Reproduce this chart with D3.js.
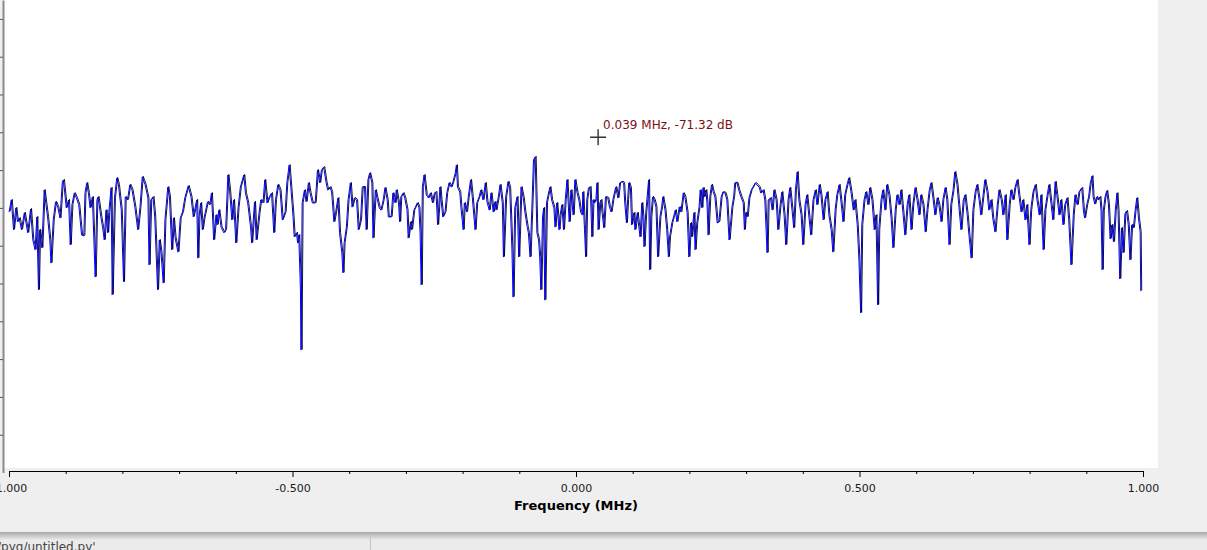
<!DOCTYPE html>
<html lang="en">
<head>
<meta charset="utf-8">
<title>Frequency Display</title>
<script src="https://d3js.org/d3.v7.min.js"></script>
<style>
    body {
        margin: 0;
        background: #efefef;
        overflow: hidden;
    }
    svg {
        display: block;
        font-family: 'DejaVu Sans', sans-serif;
    }
</style>
</head>
<body>
<div id="chart"></div>
<script>
// spectrum trace: frequency (MHz) and level (dB)
const freqMHz = [
    -1.000,-0.996,-0.992,-0.988,-0.985,-0.982,-0.978,-0.973,-0.967,-0.962,
    -0.958,-0.954,-0.951,-0.948,-0.946,-0.942,-0.938,-0.932,-0.928,-0.926,
    -0.922,-0.918,-0.914,-0.910,-0.906,-0.904,-0.899,-0.895,-0.892,-0.889,
    -0.885,-0.881,-0.877,-0.872,-0.868,-0.866,-0.863,-0.860,-0.857,-0.853,
    -0.848,-0.845,-0.843,-0.838,-0.835,-0.832,-0.829,-0.826,-0.824,-0.820,
    -0.818,-0.814,-0.810,-0.807,-0.802,-0.798,-0.795,-0.791,-0.787,-0.783,
    -0.778,-0.773,-0.769,-0.765,-0.760,-0.755,-0.753,-0.750,-0.746,-0.743,
    -0.738,-0.735,-0.732,-0.728,-0.725,-0.720,-0.717,-0.713,-0.710,-0.707,
    -0.702,-0.698,-0.694,-0.690,-0.684,-0.679,-0.675,-0.669,
    -0.667,-0.665,-0.662,-0.659,-0.656,-0.650,-0.646,-0.643,-0.639,-0.635,
    -0.633,-0.630,-0.626,-0.621,-0.618,-0.614,-0.611,-0.607,-0.604,-0.600,
    -0.596,-0.592,-0.586,-0.583,-0.579,-0.574,-0.572,-0.567,-0.564,-0.559,
    -0.556,-0.552,-0.549,-0.545,-0.541,-0.537,-0.533,-0.530,-0.526,-0.522,
    -0.518,-0.513,-0.510,-0.506,-0.503,-0.499,-0.497,-0.493,-0.491,-0.489,
    -0.486,-0.485,-0.483,-0.479,-0.476,-0.472,-0.469,-0.465,-0.460,-0.456,
    -0.452,-0.449,-0.445,-0.441,-0.438,-0.434,-0.431,-0.427,-0.424,-0.420,
    -0.417,-0.413,-0.411,-0.409,-0.405,-0.402,-0.398,-0.395,-0.391,-0.387,
    -0.384,-0.380,-0.377,-0.373,-0.370,-0.367,-0.364,-0.360,-0.358,-0.354,
    -0.351,-0.347,-0.344,-0.340,
    -0.337,-0.333,-0.331,-0.326,-0.323,-0.319,-0.317,-0.313,-0.311,-0.309,
    -0.305,-0.302,-0.298,-0.296,-0.292,-0.290,-0.286,-0.284,-0.280,-0.277,
    -0.275,-0.273,-0.271,-0.268,-0.264,-0.260,-0.257,-0.253,-0.250,-0.247,
    -0.244,-0.240,-0.238,-0.235,-0.231,-0.228,-0.224,-0.220,-0.217,-0.213,
    -0.211,-0.209,-0.205,-0.203,-0.199,-0.197,-0.193,-0.190,-0.186,-0.183,
    -0.180,-0.178,-0.175,-0.171,-0.168,-0.164,-0.160,-0.157,-0.153,-0.150,
    -0.146,-0.143,-0.141,-0.137,-0.134,-0.130,-0.128,-0.124,-0.120,-0.117,
    -0.113,-0.111,-0.108,-0.104,-0.101,-0.097,-0.093,-0.090,-0.086,-0.084,
    -0.081,-0.078,-0.075,-0.072,-0.069,-0.066,-0.064,-0.062,-0.059,-0.057,
    -0.055,-0.052,-0.050,-0.046,-0.043,-0.039,-0.037,-0.034,-0.030,-0.028,
    -0.025,-0.022,-0.019,-0.016,-0.012,-0.009,-0.005,-0.002,
    0.002,0.005,0.008,0.011,0.012,0.015,0.017,0.019,0.022,0.025,
    0.028,0.030,0.032,0.035,0.037,0.039,0.042,0.044,0.046,0.049,
    0.052,0.056,0.059,0.062,0.065,0.068,0.070,0.074,0.077,0.081,
    0.084,0.086,0.089,0.091,0.093,0.096,0.098,0.102,0.104,0.108,
    0.110,0.113,0.116,0.118,0.120,0.123,0.125,0.128,0.130,0.132,
    0.135,0.138,0.141,0.144,0.148,0.151,0.153,0.157,0.160,0.163,
    0.165,0.169,0.172,0.175,0.178,0.182,0.185,0.189,0.192,0.196,
    0.199,0.202,0.204,0.208,0.210,0.213,0.217,0.219,0.222,0.224,
    0.226,0.229,0.231,0.233,0.236,0.239,0.242,0.245,0.249,0.252,
    0.256,0.259,0.263,0.266,0.270,0.272,0.275,0.278,0.280,0.284,
    0.287,0.291,0.295,0.297,0.299,0.302,0.305,0.309,0.312,0.316,
    0.319,0.323,0.326,0.330,0.333,0.337,0.339,0.343,
    0.346,0.349,0.353,0.356,0.360,0.363,0.367,0.370,0.374,0.377,
    0.381,0.384,0.387,0.390,0.393,0.397,0.400,0.404,0.407,0.411,
    0.414,0.418,0.422,0.425,0.429,0.432,0.436,0.439,0.443,0.446,
    0.450,0.453,0.457,0.460,0.464,0.467,0.471,0.474,0.478,0.481,
    0.485,0.489,0.492,0.496,0.499,0.502,0.504,0.508,0.511,0.515,
    0.518,0.522,0.526,0.529,0.532,0.534,0.538,0.541,0.545,0.548,
    0.552,0.556,0.559,0.563,0.566,0.570,0.573,0.577,0.580,0.584,
    0.587,0.591,0.594,0.598,0.601,0.605,0.608,0.612,0.616,0.619,
    0.623,0.626,0.630,0.633,0.637,0.640,0.644,0.647,0.651,0.654,
    0.658,0.661,0.665,0.668,0.672,0.675,0.679,0.683,0.686,0.690,
    0.693,0.697,0.700,0.704,0.707,0.711,0.714,0.718,0.721,0.725,
    0.728,0.732,0.735,0.739,0.743,0.746,0.750,0.753,0.757,0.760,
    0.764,0.767,0.771,0.774,0.778,0.781,0.785,0.788,0.792,0.795,
    0.799,0.802,0.806,0.810,0.813,0.817,0.820,0.824,0.827,0.831,
    0.834,0.838,0.841,0.845,0.848,0.852,0.855,0.859,0.862,0.866,
    0.869,0.873,0.877,0.880,0.884,0.887,
    0.892,0.895,0.897,0.901,0.904,0.907,0.910,0.912,0.915,0.918,
    0.921,0.924,0.926,0.928,0.930,0.933,0.936,0.939,0.942,0.945,
    0.948,0.951,0.954,0.956,0.959,0.962,0.965,0.968,0.971,0.974,
    0.977,0.980,0.983,0.986,0.989,0.992,0.995,0.996
];

const levelDb = [
    -91.1,-87.9,-95.8,-90.0,-93.7,-92.7,-95.8,-91.3,-96.6,-90.3,
    -98.5,-101.1,-92.4,-111.7,-95.8,-100.6,-85.3,-92.4,-98.5,-104.6,
    -93.2,-88.4,-89.8,-92.7,-83.1,-82.6,-90.0,-87.9,-99.8,-89.2,
    -86.1,-87.4,-89.2,-97.2,-97.4,-86.1,-83.4,-86.1,-90.0,-87.1,
    -108.3,-87.9,-87.1,-92.4,-95.1,-98.5,-90.6,-96.6,-91.3,-84.7,
    -113.0,-87.4,-82.1,-83.9,-90.6,-109.6,-87.1,-87.9,-83.9,-85.3,
    -89.8,-95.8,-89.8,-81.8,-83.9,-87.4,-105.1,-87.9,-87.1,-92.4,
    -111.7,-98.5,-101.7,-109.9,-93.2,-84.5,-87.1,-101.1,-92.7,-98.0,
    -101.7,-92.7,-91.1,-87.4,-84.2,-87.1,-92.4,-87.9,
    -103.3,-92.4,-88.7,-95.8,-92.7,-88.4,-89.2,-86.1,-98.5,-91.9,
    -94.5,-90.6,-95.1,-96.6,-95.8,-81.3,-85.3,-93.2,-87.9,-99.3,
    -90.0,-84.5,-81.3,-86.1,-88.7,-95.1,-99.3,-88.4,-98.5,-91.3,
    -87.9,-88.7,-82.6,-88.7,-87.1,-86.1,-96.6,-87.9,-83.9,-85.3,
    -93.2,-91.1,-83.4,-78.7,-84.5,-92.4,-97.7,-96.6,-99.3,-97.2,
    -111.7,-127.6,-88.7,-85.3,-88.4,-83.4,-86.1,-88.7,-88.7,-80.0,
    -83.4,-80.0,-79.2,-83.1,-85.3,-84.5,-85.8,-93.7,-91.3,-87.4,
    -96.6,-101.9,-107.2,-99.3,-95.1,-87.9,-83.4,-89.8,-87.4,-87.9,
    -95.8,-93.2,-84.5,-84.5,-95.8,-82.6,-80.8,-83.4,-98.0,-85.3,
    -87.4,-90.0,-90.6,-87.9,
    -84.7,-87.9,-92.4,-92.4,-86.1,-88.7,-85.3,-88.7,-93.7,-87.1,
    -86.1,-87.4,-90.6,-98.0,-93.7,-95.8,-90.6,-90.0,-88.7,-90.0,
    -96.6,-110.4,-84.5,-81.3,-86.6,-87.4,-86.1,-88.7,-86.1,-85.8,
    -94.5,-84.5,-87.9,-92.4,-91.1,-86.1,-83.4,-84.5,-83.1,-80.8,
    -78.7,-84.5,-85.8,-89.8,-95.8,-88.7,-91.1,-87.1,-82.6,-87.1,
    -92.4,-95.8,-88.7,-87.1,-85.3,-87.9,-83.4,-88.4,-90.6,-86.1,
    -91.1,-88.4,-90.6,-87.1,-83.9,-88.7,-103.0,-87.1,-83.1,-84.7,
    -101.1,-113.6,-90.0,-87.1,-103.0,-84.5,-87.4,-91.3,-95.1,-96.6,
    -103.0,-90.6,-77.3,-76.5,-96.6,-98.5,-103.0,-111.7,-92.4,-90.0,
    -114.4,-88.7,-87.1,-84.5,-87.9,-90.0,-95.1,-88.7,-95.8,-91.9,
    -89.2,-95.8,-87.9,-82.6,-93.7,-85.3,-91.9,-82.6,
    -86.1,-87.9,-91.1,-91.9,-85.8,-95.8,-103.0,-87.9,-84.7,-84.5,
    -97.7,-87.9,-88.7,-87.9,-83.4,-95.8,-88.7,-87.9,-91.3,-95.3,
    -87.1,-87.4,-89.8,-91.1,-87.9,-85.8,-84.5,-87.4,-83.4,-83.1,
    -83.4,-88.7,-94.0,-87.9,-83.4,-84.7,-94.5,-91.3,-95.8,-91.3,
    -94.0,-97.7,-88.7,-92.4,-100.3,-91.3,-87.9,-82.6,-106.4,-92.4,
    -87.1,-87.9,-89.8,-103.0,-92.4,-89.8,-87.1,-90.6,-95.8,-103.0,
    -97.7,-94.0,-92.4,-90.6,-93.7,-89.8,-91.1,-86.1,-87.1,-91.3,
    -103.0,-94.0,-97.7,-91.3,-101.1,-94.0,-89.8,-85.3,-90.0,-84.7,
    -87.1,-85.3,-88.7,-97.2,-87.1,-83.9,-85.8,-87.1,-94.0,-93.7,
    -87.1,-85.8,-86.1,-87.9,-98.5,-95.1,-89.8,-87.1,-83.4,-83.4,
    -85.3,-87.1,-88.7,-95.8,-91.3,-92.4,-87.4,-85.3,-84.5,-83.4,
    -83.9,-84.5,-86.1,-85.3,-87.9,-101.9,-87.9,-87.4,
    -90.6,-85.3,-87.9,-95.8,-89.2,-85.8,-91.9,-99.8,-87.9,-84.7,
    -90.6,-95.3,-85.3,-80.5,-87.9,-91.9,-99.8,-89.2,-86.6,-92.7,
    -97.2,-87.9,-85.3,-89.2,-83.9,-86.6,-93.2,-87.9,-85.8,-91.9,
    -95.8,-101.7,-90.6,-86.6,-83.9,-87.9,-93.7,-86.6,-83.9,-82.1,
    -85.8,-90.6,-87.9,-94.5,-103.8,-117.8,-94.5,-87.9,-85.8,-89.2,
    -84.7,-87.9,-95.8,-91.9,-115.7,-95.8,-87.9,-85.3,-90.6,-83.9,
    -86.6,-93.2,-100.6,-90.6,-86.6,-89.2,-85.3,-91.9,-97.2,-89.2,
    -86.6,-95.8,-89.2,-84.7,-87.4,-91.9,-86.6,-89.2,-96.4,-90.6,
    -85.3,-83.4,-87.9,-91.9,-87.4,-89.2,-93.7,-87.9,-84.7,-87.9,
    -99.8,-89.2,-85.3,-80.5,-83.9,-89.2,-95.8,-87.9,-86.6,-91.9,
    -97.2,-103.3,-90.6,-85.8,-83.9,-87.9,-91.9,-86.6,-82.6,-85.8,
    -90.6,-87.9,-92.7,-96.4,-89.2,-85.3,-87.9,-91.9,-86.6,-98.5,
    -89.2,-85.3,-87.9,-84.7,-82.6,-86.6,-91.1,-87.9,-93.2,-89.2,
    -99.8,-90.6,-85.8,-83.9,-87.9,-91.9,-86.6,-101.1,-90.6,-86.6,
    -83.9,-89.2,-93.2,-83.1,-86.6,-91.9,-87.9,-94.5,-89.2,-87.4,
    -93.2,-105.1,-91.9,-86.6,-89.2,-85.8,
    -84.7,-90.8,-92.7,-89.0,-87.1,-83.4,-81.6,-87.1,-89.0,-87.1,
    -87.9,-87.1,-90.8,-106.4,-90.8,-87.1,-85.5,-89.0,-98.2,-94.5,
    -99.0,-90.8,-86.1,-90.8,-108.8,-95.3,-101.9,-91.6,-90.8,-94.5,
    -103.8,-94.5,-95.3,-90.8,-87.4,-92.7,-96.4,-112.0
];

const majorTicks = [-1, -0.5, 0, 0.5, 1];
const minorTicks = [-0.9, -0.8, -0.7, -0.6, -0.4, -0.3, -0.2, -0.1,
                    0.1, 0.2, 0.3, 0.4, 0.6, 0.7, 0.8, 0.9];
const levelTicks = [-150, -140, -130, -120, -110, -100, -90, -80, -70, -60, -50, -40];
const xTitle = "Frequency (MHz)";
const cursorFreq = 0.039;
const cursorLevel = -71.32;
const statusText = "/pyg/untitled.py'";

const W = 1207, H = 550;

const svg = d3.select("#chart")
    .append("svg")
    .attr("width", W)
    .attr("height", H);

const x = d3.scaleLinear().domain([-1, 1]).range([9, 1143]);
const y = d3.scaleLinear().domain([-35, -160]).range([0, 472.5]);

// white plot canvas
svg.append("rect")
    .attr("x", 4).attr("y", 0)
    .attr("width", 1154).attr("height", 468)
    .attr("fill", "#ffffff");

// left axis sits at the window edge; its labels are scrolled out of view in the original
const yAxis = svg.append("g")
    .attr("transform", "translate(3,0)")
    .call(d3.axisLeft(y).tickValues(levelTicks).tickSize(3).tickSizeOuter(0).tickFormat(""));
yAxis.select(".domain").attr("stroke", "#8a8a8a").attr("stroke-width", 2);
yAxis.selectAll(".tick line").attr("stroke", "#555");

// traces
const points = freqMHz.map((f, i) => ({ f: f, v: levelDb[i] }));
const line = d3.line().x(d => x(d.f)).y(d => y(d.v));

svg.append("path")
    .datum(points)
    .attr("d", line)
    .attr("fill", "none")
    .attr("stroke", "#000000")
    .attr("stroke-width", 0.9)
    .attr("transform", "translate(1,-0.6)");

svg.append("path")
    .datum(points)
    .attr("d", line)
    .attr("fill", "none")
    .attr("stroke", "#0000ff")
    .attr("stroke-width", 1);

// bottom axis
const axisY = 471;
const minorAxis = svg.append("g")
    .attr("transform", `translate(0,${axisY})`)
    .call(d3.axisBottom(x).tickValues(minorTicks).tickSize(3).tickSizeOuter(0).tickFormat(""));

const majorAxis = svg.append("g")
    .attr("transform", `translate(0,${axisY})`)
    .call(d3.axisBottom(x).tickValues(majorTicks).tickSize(6).tickSizeOuter(0)
        .tickFormat(d => d.toFixed(3)));

[minorAxis, majorAxis].forEach(g => {
    g.select(".domain").attr("stroke", "#000");
    g.selectAll(".tick line").attr("stroke", "#000");
});
majorAxis.selectAll(".tick text")
    .attr("y", 13)
    .style("font-family", "'DejaVu Sans', sans-serif")
    .style("font-size", "11px")
    .attr("fill", "#1a1a1a");

svg.append("text")
    .attr("x", x(0))
    .attr("y", 510)
    .attr("text-anchor", "middle")
    .style("font-weight", "bold")
    .style("font-size", "13px")
    .attr("fill", "#000")
    .text(xTitle);

// cursor marker and readout
const cx = x(cursorFreq), cy = y(cursorLevel);
svg.append("path")
    .attr("d", `M${cx - 8},${cy}H${cx + 8}M${cx},${cy - 8}V${cy + 8}`)
    .attr("stroke", "#333")
    .attr("stroke-width", 1.4)
    .attr("fill", "none");

svg.append("text")
    .attr("x", cx + 5)
    .attr("y", cy - 8)
    .style("font-size", "12px")
    .attr("fill", "#7d0f0f")
    .text(`${cursorFreq.toFixed(3)} MHz, ${cursorLevel.toFixed(2)} dB`);

// window bottom: frame shadow and status bar
const grad = svg.append("defs").append("linearGradient")
    .attr("id", "shade").attr("x1", 0).attr("y1", 0).attr("x2", 0).attr("y2", 1);
grad.append("stop").attr("offset", "0%").attr("stop-color", "#a9a9a9");
grad.append("stop").attr("offset", "100%").attr("stop-color", "#ebebeb");

svg.append("rect")
    .attr("x", 0).attr("y", 532)
    .attr("width", W).attr("height", 8)
    .attr("fill", "url(#shade)");
svg.append("rect")
    .attr("x", 0).attr("y", 540)
    .attr("width", W).attr("height", 10)
    .attr("fill", "#ebebeb");
svg.append("line")
    .attr("x1", 370.5).attr("x2", 370.5)
    .attr("y1", 537).attr("y2", 550)
    .attr("stroke", "#c4c4c4");
svg.append("text")
    .attr("x", -3)
    .attr("y", 551)
    .style("font-size", "12px")
    .attr("fill", "#444")
    .text(statusText);
</script>
</body>
</html>
